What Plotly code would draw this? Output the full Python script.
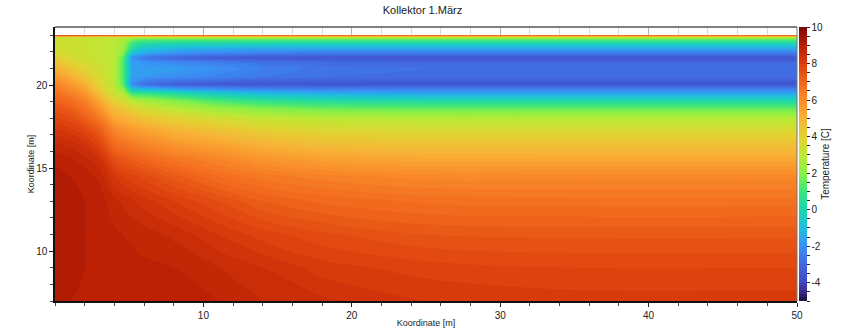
import plotly.graph_objects as go

# Grid coordinates [m]
x_coord = [0, 1, 2, 3, 4, 4.6, 5.2, 6, 8, 11, 14, 18, 25, 35, 50]
y_coord = [7, 9, 11, 13, 14.5, 15.5, 16.5, 17.3, 18.0, 18.6, 19.1, 19.5, 19.8,
           20.05, 20.5, 21.0, 21.35, 21.65, 21.9, 22.2, 22.5, 22.75, 22.9, 23]

# Temperature [C], one row per y_coord entry, columns follow x_coord
temperature = [
    [9.0, 9.0, 8.95, 8.95, 8.95, 8.93, 8.93, 8.92, 8.9, 8.8, 8.6, 8.45, 8.2, 8.1, 8.1],
    [9.1, 9.05, 9.0, 8.95, 8.9, 8.9, 8.9, 8.85, 8.8, 8.6, 8.4, 8.1, 7.9, 7.8, 7.8],
    [9.15, 9.1, 9.0, 8.95, 8.85, 8.8, 8.75, 8.7, 8.55, 8.2, 7.9, 7.65, 7.4, 7.35, 7.35],
    [9.15, 9.1, 9.0, 8.9, 8.65, 8.55, 8.45, 8.3, 8.0, 7.6, 7.2, 6.95, 6.75, 6.7, 6.7],
    [9.1, 9.0, 8.9, 8.75, 8.2, 8.0, 7.85, 7.7, 7.3, 6.8, 6.5, 6.3, 6.1, 6.1, 6.1],
    [8.95, 8.85, 8.7, 8.4, 7.6, 7.4, 7.2, 7.0, 6.6, 6.2, 5.8, 5.5, 5.3, 5.3, 5.3],
    [8.6, 8.5, 8.3, 7.8, 6.8, 6.6, 6.4, 6.2, 5.7, 5.3, 4.9, 4.6, 4.5, 4.5, 4.5],
    [8.25, 8.1, 7.8, 7.2, 6.2, 5.9, 5.6, 5.4, 4.9, 4.5, 4.1, 3.8, 3.7, 3.7, 3.7],
    [7.85, 7.65, 7.2, 6.5, 5.3, 5.1, 4.8, 4.5, 4.0, 3.5, 3.1, 2.9, 2.8, 2.8, 2.8],
    [7.5, 7.2, 6.7, 5.8, 4.6, 4.4, 3.9, 3.5, 2.9, 2.3, 1.9, 1.6, 1.5, 1.5, 1.5],
    [7.1, 6.8, 6.3, 5.2, 3.9, 3.5, 2.8, 2.4, 1.8, 1.0, 0.5, 0.2, 0.0, 0.0, 0.0],
    [6.8, 6.35, 5.8, 4.6, 3.3, 2.7, 1.0, 0.8, 0.3, -0.5, -1.0, -1.3, -1.5, -1.5, -1.5],
    [6.5, 6.0, 5.4, 4.2, 3.0, 2.0, -0.8, -1.3, -1.8, -2.2, -2.4, -2.5, -2.5, -2.5, -2.5],
    [6.2, 5.7, 5.0, 3.9, 2.9, 1.4, -2.0, -2.8, -3.3, -3.5, -3.6, -3.6, -3.6, -3.6, -3.6],
    [5.7, 5.1, 4.4, 3.6, 2.9, 1.2, -1.7, -1.8, -2.0, -2.3, -2.6, -2.8, -2.9, -2.9, -2.9],
    [5.1, 4.5, 3.9, 3.4, 2.9, 1.2, -1.6, -1.6, -1.7, -2.0, -2.4, -2.7, -2.8, -2.8, -2.8],
    [4.6, 4.0, 3.6, 3.3, 2.9, 1.2, -1.7, -1.9, -2.1, -2.4, -2.7, -2.9, -3.0, -3.0, -3.0],
    [4.2, 3.7, 3.4, 3.2, 2.9, 1.4, -1.9, -2.6, -3.1, -3.4, -3.5, -3.6, -3.6, -3.6, -3.6],
    [3.7, 3.5, 3.3, 3.1, 2.9, 2.0, -0.8, -1.5, -2.0, -2.3, -2.5, -2.6, -2.6, -2.6, -2.6],
    [3.5, 3.4, 3.3, 3.1, 2.9, 2.4, 0.3, -0.6, -1.1, -1.3, -1.4, -1.4, -1.4, -1.4, -1.4],
    [3.4, 3.3, 3.2, 3.1, 2.9, 2.6, 0.9, 0.3, 0.1, 0.0, -0.1, -0.1, -0.1, -0.1, -0.1],
    [3.4, 3.3, 3.2, 3.1, 3.0, 2.8, 1.9, 1.5, 1.4, 1.4, 1.4, 1.4, 1.4, 1.4, 1.4],
    [3.5, 3.4, 3.3, 3.2, 3.2, 3.2, 3.1, 3.1, 3.1, 3.1, 3.1, 3.1, 3.1, 3.1, 3.1],
    [8.0, 8.0, 7.9, 7.8, 7.7, 7.6, 7.6, 7.5, 7.5, 7.5, 7.5, 7.5, 7.5, 7.5, 7.5],
]

# Axis ticks
x_ticks = [10, 20, 30, 40, 50]
y_ticks = [10, 15, 20]
cbar_major = [-4, -2, 0, 2, 4, 6, 8, 10]

T_MIN, T_MAX = -5, 10

# Rainbow palette anchored at temperature values
palette = [
    (-5, "#1e0f3c"), (-4.5, "#3a2a8a"), (-4, "#4048c0"), (-3, "#4268e0"),
    (-2, "#3b8ff5"), (-1, "#1fbde0"), (0, "#1dd4b0"), (1, "#3ee67a"),
    (2, "#8af046"), (3, "#bfe835"), (4, "#e2d232"), (5, "#f8b236"),
    (6, "#fa8c2a"), (7, "#f0661c"), (8, "#dc3e0c"), (9, "#b81e04"),
    (10, "#7a0806"),
]
colorscale = [[(v - T_MIN) / (T_MAX - T_MIN), c] for v, c in palette]

# Colorbar ticks every 0.5, labelled every 2
cb_vals = [T_MIN + 0.5 * i for i in range(int((T_MAX - T_MIN) / 0.5) + 1)]
cb_text = [(f"{int(v)}" if (v in cbar_major) else "") for v in cb_vals]

FONT = "Liberation Sans, Arial, sans-serif"

fig = go.Figure()
fig.add_trace(go.Contour(
    x=x_coord, y=y_coord, z=temperature,
    colorscale=colorscale, zmin=T_MIN, zmax=T_MAX, zauto=False,
    contours=dict(start=T_MIN, end=T_MAX, size=0.2, coloring="fill", showlines=False),
    line=dict(width=0),
    colorbar=dict(
        x=1.0, xanchor="left", xpad=2, y=0.5, yanchor="middle",
        len=1.0, lenmode="fraction", ypad=0, thickness=8,
        outlinewidth=0,
        tickmode="array", tickvals=cb_vals, ticktext=cb_text,
        ticks="outside", ticklen=3, tickcolor="#222", tickwidth=1,
        tickfont=dict(family=FONT, size=10, color="#222"),
        title=dict(text="Temperature [C]", side="right",
                   font=dict(family=FONT, size=10, color="#222")),
    ),
))

fig.update_layout(
    width=845, height=328,
    margin=dict(l=55, r=48, t=27, b=27, autoexpand=False),
    paper_bgcolor="white", plot_bgcolor="white",
    title=dict(text="Kollektor 1.März", x=0.5, xanchor="center", y=0.97, yanchor="middle",
               font=dict(family=FONT, size=11, color="#222")),
    font=dict(family=FONT, size=10, color="#222"),
    xaxis=dict(
        range=[0, 50], tickmode="array", tickvals=x_ticks, automargin=False,
        ticks="outside", ticklen=4, tickcolor="#222",
        showline=True, linecolor="#111", linewidth=1.5,
        showgrid=True, gridcolor="#b0b0b0", gridwidth=1,
        minor=dict(dtick=2, tick0=0, ticks="outside", ticklen=3, tickcolor="#444",
                   showgrid=True, gridcolor="#dcdcdc", gridwidth=1),
        zeroline=False,
        title=dict(text="Koordinate [m]", standoff=2, font=dict(family=FONT, size=9, color="#222")),
    ),
    yaxis=dict(
        range=[7, 23.5], tickmode="array", tickvals=y_ticks, automargin=False,
        ticks="outside", ticklen=4, tickcolor="#222",
        showline=True, linecolor="#111", linewidth=1.5,
        showgrid=False,
        minor=dict(dtick=1, tick0=0, ticks="outside", ticklen=3, tickcolor="#444"),
        zeroline=False,
        title=dict(text="Koordinate [m]", standoff=0, font=dict(family=FONT, size=9, color="#222")),
    ),
    shapes=[
        dict(type="line", xref="paper", yref="paper", x0=0, x1=1, y0=1, y1=1,
             line=dict(color="#555", width=1.5)),
        dict(type="line", xref="paper", yref="paper", x0=1, x1=1, y0=0, y1=1,
             line=dict(color="#777", width=1)),
    ],
)

fig.write_html("out.html")
